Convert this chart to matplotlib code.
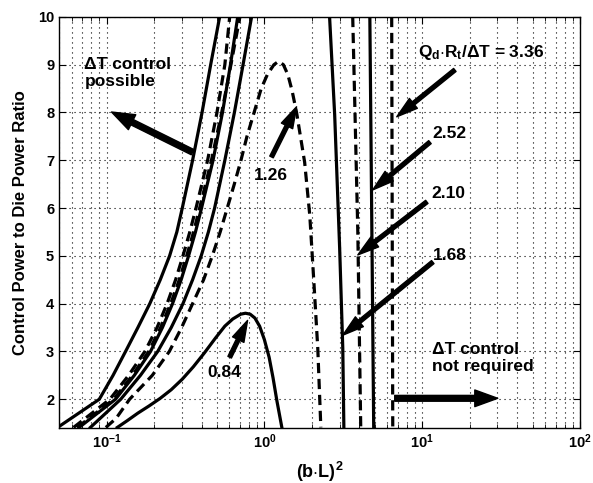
import matplotlib
matplotlib.use('Agg')
import matplotlib.pyplot as plt
import numpy as np

plt.rcParams['font.family'] = ['Liberation Sans', 'DejaVu Sans']
plt.rcParams['font.weight'] = 'bold'
plt.rcParams['mathtext.fontset'] = 'custom'
plt.rcParams['mathtext.rm'] = 'Liberation Sans:bold'
plt.rcParams['mathtext.it'] = 'Liberation Sans:bold'
plt.rcParams['mathtext.bf'] = 'Liberation Sans:bold'

######### data
levels_y = [1.41, 2.0, 2.5, 3.0, 3.5, 4.0, 4.5, 5.0, 5.5, 6.0, 7.0, 8.0, 9.0, 10.0]

# left branches (rising), all read at the y levels above
a_x = [0.049, 0.090, 0.110, 0.132, 0.158, 0.188, 0.219, 0.251, 0.279, 0.302, 0.351, 0.403, 0.457, 0.521]
b1_x = [0.0618, 0.105, 0.138, 0.175, 0.209, 0.242, 0.274, 0.305, 0.337, 0.369, 0.437, 0.501, 0.562, 0.603]
b2_x = [0.0652, 0.111, 0.146, 0.185, 0.220, 0.255, 0.289, 0.322, 0.356, 0.389, 0.462, 0.537, 0.614, 0.700]
c_x = [0.067, 0.114, 0.150, 0.190, 0.226, 0.262, 0.297, 0.331, 0.366, 0.400, 0.473, 0.543, 0.610, 0.678]
d_x = [0.079, 0.123, 0.164, 0.211, 0.257, 0.305, 0.351, 0.398, 0.442, 0.484, 0.562, 0.646, 0.733, 0.830]

# Q_d R_t / dT = 1.26 (dashed hump)
e_x = [0.099, 0.115, 0.140, 0.195, 0.250, 0.299, 0.351, 0.412, 0.468, 0.525, 0.582, 0.645, 0.711, 0.776,
       0.861, 0.955, 1.047, 1.15, 1.23, 1.32, 1.41, 1.50, 1.60, 1.80, 1.94, 2.06, 2.18, 2.28]
e_y = [1.41, 1.6, 2.0, 2.5, 3.0, 3.5, 4.0, 4.5, 5.0, 5.5, 6.0, 6.5, 7.0, 7.5,
       8.0, 8.5, 8.8, 9.0, 9.07, 9.0, 8.79, 8.45, 8.0, 6.96, 5.85, 4.45, 3.07, 1.41]

# Q_d R_t / dT = 0.84 (solid hump)
f_x = [0.117, 0.135, 0.158, 0.186, 0.219, 0.257, 0.302, 0.355, 0.417, 0.490, 0.562, 0.631, 0.708,
       0.759, 0.813, 0.871, 0.933, 1.0, 1.072, 1.135, 1.202, 1.291]
f_y = [1.41, 1.55, 1.71, 1.86, 2.02, 2.2, 2.42, 2.68, 2.97, 3.28, 3.53, 3.68, 3.78,
       3.80, 3.78, 3.70, 3.53, 3.25, 2.88, 2.45, 1.96, 1.41]

# right branches (falling from infinity)
r168_x = [2.59, 2.79, 3.00, 3.14, 3.19]
r168_y = [10.0, 7.95, 5.16, 3.07, 1.41]
r210_x = [3.63, 3.91, 4.08]
r210_y = [10.0, 5.5, 1.41]
r252_x = [4.66, 4.80, 4.93]
r252_y = [10.0, 5.5, 1.41]
r336_x = [6.41, 6.46, 6.51]
r336_y = [10.0, 5.5, 1.41]

#########
fig = plt.figure(figsize=(5.93, 4.83), dpi=100)
ax = fig.add_axes([0.0995, 0.114, 0.8786, 0.851])

lw = 2.3
dash = (0, (3.2, 1.8))
ax.plot(a_x, levels_y, '-', color='k', lw=lw)
ax.plot(b1_x, levels_y, linestyle=dash, color='k', lw=lw)
ax.plot(b2_x, levels_y, linestyle=dash, color='k', lw=lw)
ax.plot(c_x, levels_y, '-', color='k', lw=lw)
ax.plot(d_x, levels_y, '-', color='k', lw=lw)
ax.plot(e_x, e_y, linestyle=dash, color='k', lw=lw)
ax.plot(f_x, f_y, '-', color='k', lw=lw)
ax.plot(r168_x, r168_y, '-', color='k', lw=lw)
ax.plot(r210_x, r210_y, linestyle=dash, color='k', lw=lw)
ax.plot(r252_x, r252_y, '-', color='k', lw=lw)
ax.plot(r336_x, r336_y, linestyle=dash, color='k', lw=lw)

ax.set_xscale('log')
ax.set_xlim(0.05, 100)
ax.set_ylim(1.4, 10)
ax.set_yticks([2, 3, 4, 5, 6, 7, 8, 9, 10])

ax.grid(True, which='major', axis='both', color='k', linestyle=(0, (1, 3.5)), lw=0.8)
ax.grid(True, which='minor', axis='x', color='k', linestyle=(0, (1, 3.5)), lw=0.8)
ax.tick_params(which='both', direction='in', top=True, right=True, labelsize=10.5)
ax.tick_params(which='major', length=5)
ax.tick_params(which='minor', length=3)
for s in ax.spines.values():
    s.set_linewidth(1.0)

ax.set_ylabel('Control Power to Die Power Ratio', fontsize=12, fontweight='bold', labelpad=7)
ax.set_xlabel(r'(b$\cdot$L)$^2$', fontsize=13, fontweight='bold', labelpad=6)

big = dict(arrowstyle='simple,head_length=1.1,head_width=0.8,tail_width=0.28',
           mutation_scale=15, color='k', shrinkA=0, shrinkB=0)
small = dict(arrowstyle='simple,head_length=1.1,head_width=0.65,tail_width=0.2',
             mutation_scale=14, color='k', shrinkA=0, shrinkB=0)

fs = 12.5
ax.text(0.0725, 9.16, 'ΔT control\npossible', fontsize=fs, fontweight='bold',
        ha='left', va='top', linespacing=1.15)
ax.annotate('', xy=(0.1076, 8.01), xytext=(0.351, 7.17), arrowprops=big)

ax.text(1.096, 6.69, '1.26', fontsize=fs, fontweight='bold', ha='center', va='center')
ax.annotate('', xy=(1.60, 8.12), xytext=(1.11, 7.07), arrowprops=small)

ax.text(9.38, 9.16, r'$Q_d{\cdot}R_t/\Delta T$ = 3.36', fontsize=fs, fontweight='bold',
        ha='left', va='baseline')
ax.annotate('', xy=(6.90, 7.91), xytext=(16.1, 8.89), arrowprops=small)

ax.text(11.67, 7.47, '2.52', fontsize=fs, fontweight='bold', ha='left', va='baseline')
ax.annotate('', xy=(4.86, 6.38), xytext=(11.2, 7.38), arrowprops=small)

ax.text(11.5, 6.21, '2.10', fontsize=fs, fontweight='bold', ha='left', va='baseline')
ax.annotate('', xy=(3.91, 5.02), xytext=(10.7, 6.13), arrowprops=small)

ax.text(11.67, 4.91, '1.68', fontsize=fs, fontweight='bold', ha='left', va='baseline')
ax.annotate('', xy=(3.14, 3.34), xytext=(11.67, 4.87), arrowprops=small)

ax.text(0.437, 2.46, '0.84', fontsize=fs, fontweight='bold', ha='left', va='baseline')
ax.annotate('', xy=(0.783, 3.65), xytext=(0.603, 2.88), arrowprops=small)

ax.text(11.5, 3.2, 'ΔT control\nnot required', fontsize=fs, fontweight='bold',
        ha='left', va='top', linespacing=1.15)
ax.annotate('', xy=(30.1, 2.02), xytext=(6.70, 2.02), arrowprops=big)

fig.savefig('out.png', dpi=100)
